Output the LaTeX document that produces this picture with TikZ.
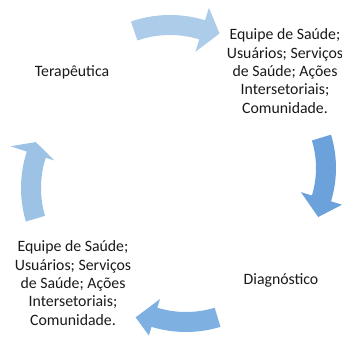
\documentclass[tikz,border=0pt]{standalone}
\usepackage{fontspec}
\setmainfont{Carlito}

\definecolor{arrowtop}{RGB}{172,204,234}
\definecolor{arrowright}{RGB}{108,162,219}
\definecolor{arrowbottom}{RGB}{126,176,225}
\definecolor{arrowleft}{RGB}{156,194,230}

\begin{document}
\begin{tikzpicture}[x=1pt,y=1pt]
        \useasboundingbox (0,0) rectangle (342,338);

        \begin{scope}[every node/.style={align=center,text=black!90,font=\fontsize{15.8}{18.3}\selectfont}]
          \node (terapeutica) at (72,266)  {Terapêutica};
          \node (equipe1)     at (285,267) {Equipe de Saúde;\\Usuários; Serviços\\de Saúde; Ações\\Intersetoriais;\\Comunidade.};
          \node (diagnostico) at (281,58)  {Diagnóstico};
          \node (equipe2)     at (73,55)   {Equipe de Saúde;\\Usuários; Serviços\\de Saúde; Ações\\Intersetoriais;\\Comunidade.};
        \end{scope}

        % top
        \fill[arrowtop,shift={(170,203)}] (109:120) arc[start angle=109,end angle=73,radius=120]
          -- (73:133) -- (64:113) -- (73:87) -- (73:100)
          arc[start angle=73,end angle=109,radius=100] -- cycle;
        % right
        \fill[arrowright,shift={(222,170)}] (17:114) arc[start angle=17,end angle=-17,radius=114]
          -- (-17:125.5) -- (-27:108) -- (-17:82.5) -- (-17:94)
          arc[start angle=-17,end angle=17,radius=94] -- cycle;
        % bottom
        \fill[arrowbottom,shift={(186,124)}] (-73:118) arc[start angle=-73,end angle=-107,radius=118]
          -- (-107:127) -- (-116:115) -- (-107:89) -- (-107:98)
          arc[start angle=-107,end angle=-73,radius=98] -- cycle;
        % left
        \fill[arrowleft,shift={(139,150)}] (196.5:118) arc[start angle=196.5,end angle=162,radius=118]
          -- (162:135) -- (156:113) -- (162:89) -- (162:98)
          arc[start angle=162,end angle=196.5,radius=98] -- cycle;

      \end{tikzpicture}
\end{document}
